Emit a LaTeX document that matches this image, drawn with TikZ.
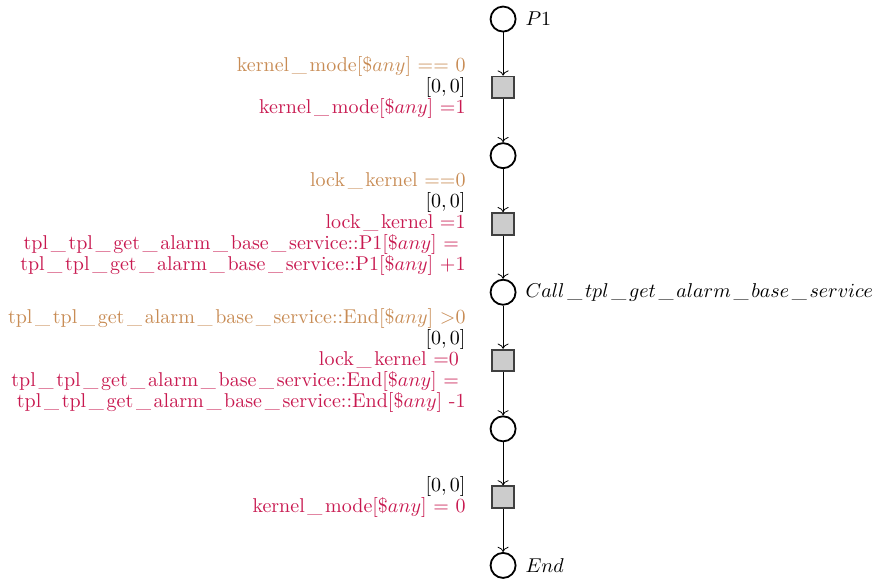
\documentclass[tikz,border=0pt]{standalone}
\usetikzlibrary{positioning, arrows.meta}

\definecolor{guardcol}{RGB}{200,140,85}
\definecolor{actcol}{RGB}{200,25,80}
\newcommand{\usc}{\kern1.35pt\_\kern1.35pt}

\begin{document}
\begin{tikzpicture}[
    >={To[width=5.5pt,length=2.6pt]},
    place/.style={circle, draw, line width=0.9pt, minimum size=0.44cm, inner sep=0pt},
    trans/.style={rectangle, draw=black!75, line width=0.9pt, fill=black!20, minimum size=0.38cm, inner sep=0pt},
    guard/.style={align=right, font=\fontsize{10}{10.5}\selectfont},
    arc/.style={->}
]
    \useasboundingbox (-8.84,0.335) rectangle (6.57,-9.825);

    % Stellen und Transitionen
    \node[place, label={[label distance=1pt]right:$P1$}] (p1) at (0,0) {};
    \node[trans] (t1) at (0,-1.2) {};
    \node[place] (p2) at (0,-2.4) {};
    \node[trans] (t2) at (0,-3.6) {};
    \node[place, label={[label distance=1pt]right:$Call\usc tpl\usc get\usc alarm\usc base\usc service$}] (p3) at (0,-4.8) {};
    \node[trans] (t3) at (0,-6.0) {};
    \node[place] (p4) at (0,-7.2) {};
    \node[trans] (t4) at (0,-8.4) {};
    \node[place, label={[label distance=1pt]right:$End$}] (p5) at (0,-9.6) {};

    % Kanten
    \draw[arc] (p1) -- (t1);
    \draw[arc] (t1) -- (p2);
    \draw[arc] (p2) -- (t2);
    \draw[arc] (t2) -- (p3);
    \draw[arc] (p3) -- (t3);
    \draw[arc] (t3) -- (p4);
    \draw[arc] (p4) -- (t4);
    \draw[arc] (t4) -- (p5);

    % Beschriftungen
    \node[guard, left=0.33cm of t1] (l1) {\textcolor{guardcol}{kernel\usc mode[\$$any$] == 0}\\
        $[0,0]$\\
        \textcolor{actcol}{kernel\usc mode[\$$any$] =1}};
    \node[guard, left=0.33cm of t2] (l2) {\textcolor{guardcol}{lock\usc kernel ==0}\\
        $[0,0]$\\
        \textcolor{actcol}{lock\usc kernel =1}\\
        \textcolor{actcol}{tpl\usc tpl\usc get\usc alarm\usc base\usc service::P1[\$$any$] =\ \mbox{}}\\
        \textcolor{actcol}{tpl\usc tpl\usc get\usc alarm\usc base\usc service::P1[\$$any$] +1}};
    \node[guard, left=0.33cm of t3] (l3) {\textcolor{guardcol}{tpl\usc tpl\usc get\usc alarm\usc base\usc service::End[\$$any$] >0}\\
        $[0,0]$\\
        \textcolor{actcol}{lock\usc kernel =0\ \mbox{}}\\
        \textcolor{actcol}{tpl\usc tpl\usc get\usc alarm\usc base\usc service::End[\$$any$] =\ \mbox{}}\\
        \textcolor{actcol}{tpl\usc tpl\usc get\usc alarm\usc base\usc service::End[\$$any$] -1}};
    \node[guard, left=0.33cm of t4] (l4) {$[0,0]$\\
        \textcolor{actcol}{kernel\usc mode[\$$any$] = 0}};
\end{tikzpicture}
\end{document}
